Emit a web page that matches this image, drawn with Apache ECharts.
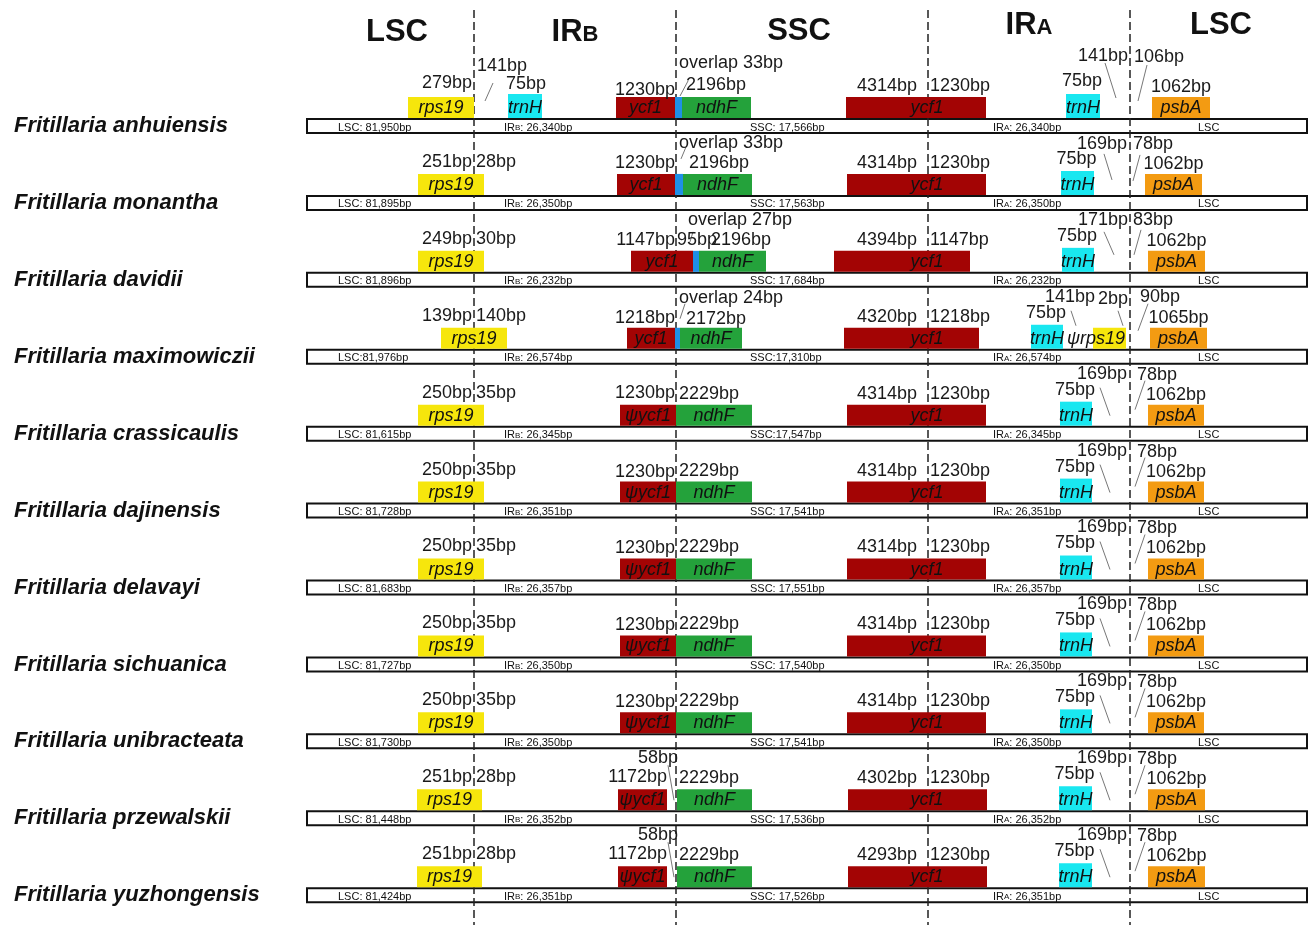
<!DOCTYPE html>
<html>
<head>
<meta charset="utf-8">
<script src="https://cdn.jsdelivr.net/npm/echarts@6/dist/echarts.min.js"></script>
<style>
  html, body { margin: 0; padding: 0; background: #fff; }
  #chart { width: 1312px; height: 925px; }
</style>
</head>
<body>
<div id="chart"></div>
<script>
// ---------- data ----------
const species = [
  'Fritillaria anhuiensis', 'Fritillaria monantha', 'Fritillaria davidii',
  'Fritillaria maximowiczii', 'Fritillaria crassicaulis', 'Fritillaria dajinensis',
  'Fritillaria delavayi', 'Fritillaria sichuanica', 'Fritillaria unibracteata',
  'Fritillaria przewalskii', 'Fritillaria yuzhongensis'
];
const regionNames = ['LSC', 'IRB', 'SSC', 'IRA', 'LSC'];

// region lengths (bp)
const lscLen = [81950, 81895, 81896, 81976, 81615, 81728, 81683, 81727, 81730, 81448, 81424];
const irLen  = [26340, 26350, 26232, 26574, 26345, 26351, 26357, 26350, 26350, 26352, 26351];
const sscLen = [17566, 17563, 17684, 17310, 17547, 17541, 17551, 17540, 17541, 17536, 17526];
const compactLsc = [3];      // rows printed as "LSC:81,976bp"
const compactSsc = [3, 4];   // rows printed as "SSC:17,310bp"

// boundary distances (bp)
const rps19Lsc    = [279, 251, 249, 139, 250, 250, 250, 250, 250, 251, 251];
const rps19Irb    = [null, 28, 30, 140, 35, 35, 35, 35, 35, 28, 28];
const trnHIrbGap  = [141, null, null, null, null, null, null, null, null, null, null];
const trnHIrb     = [75, null, null, null, null, null, null, null, null, null, null];
const ycf1Irb     = [1230, 1230, 1147, 1218, 1230, 1230, 1230, 1230, 1230, 1172, 1172];
const ycf1Gap     = [null, null, 95, null, null, null, null, null, null, 58, 58];
const ndhFOverlap = [33, 33, 27, 24, null, null, null, null, null, null, null];
const ndhFLen     = [2196, 2196, 2196, 2172, 2229, 2229, 2229, 2229, 2229, 2229, 2229];
const ycf1Ssc     = [4314, 4314, 4394, 4320, 4314, 4314, 4314, 4314, 4314, 4302, 4293];
const ycf1Ira     = [1230, 1230, 1147, 1218, 1230, 1230, 1230, 1230, 1230, 1230, 1230];
const trnHIra     = [75, 75, 75, 75, 75, 75, 75, 75, 75, 75, 75];
const trnHIraGap  = [141, 169, 171, 141, 169, 169, 169, 169, 169, 169, 169];
const rps19Ira    = [null, null, null, 2, null, null, null, null, null, null, null];
const psbAGap     = [106, 78, 83, 90, 78, 78, 78, 78, 78, 78, 78];
const psbALen     = [1062, 1062, 1062, 1065, 1062, 1062, 1062, 1062, 1062, 1062, 1062];

// ---------- diagram layout (schematic x units) ----------
const barSpan = [307, 1307];
const junctionX = [474, 676, 928, 1130];
const headerPos = [[397, 31], [575, 31], [799, 30], [1029, 24], [1221, 24]];
const segLabelX = [338, 504, 750, 993, 1198];

const stdBoxes = [['rps19', 418, 484], ['psiycf1', 620, 676], ['ndhF', 676, 752], ['ycf1A', 847, 986], ['trnH', 1060, 1092], ['psbA', 1148, 1204]];
const lateBoxes = [['rps19', 417, 482], ['psiycf1', 618, 667], ['ndhF', 677, 752], ['ycf1A', 848, 987], ['trnH', 1059, 1092], ['psbA', 1148, 1205]];
const boxLayout = [
  [['rps19', 408, 474], ['trnH', 508, 542], ['ycf1', 616, 675], ['ov', 675, 682], ['ndhF', 682, 751], ['ycf1A', 846, 986], ['trnH', 1066, 1100], ['psbA', 1152, 1210]],
  [['rps19', 418, 484], ['ycf1', 617, 675], ['ov', 675, 683], ['ndhF', 683, 752], ['ycf1A', 847, 986], ['trnH', 1061, 1094], ['psbA', 1145, 1202]],
  [['rps19', 418, 484], ['ycf1', 631, 693], ['ov', 693, 699], ['ndhF', 699, 766], ['ycf1A', 834, 970], ['trnH', 1062, 1094], ['psbA', 1148, 1205]],
  [['rps19', 441, 507], ['ycf1', 627, 675], ['ov', 675, 680], ['ndhF', 680, 742], ['ycf1A', 844, 979], ['trnH', 1031, 1063], ['psirps19', 1093, 1126], ['psbA', 1150, 1207]],
  stdBoxes, stdBoxes, stdBoxes, stdBoxes, stdBoxes,
  lateBoxes, lateBoxes
];

const geneStyle = {
  rps19:    { fill: '#f6e60c', text: 'rps19' },
  psirps19: { fill: '#f6e60c', text: 'ψrps19', align: 'right' },
  trnH:     { fill: '#19e7f0', text: 'trnH', h: 24 },
  ycf1:     { fill: '#a30404', text: 'ycf1' },
  ycf1A:    { fill: '#a30404', text: 'ycf1', at: 927 },
  psiycf1:  { fill: '#a30404', text: 'ψycf1' },
  ov:       { fill: '#1f8fe6', text: '' },
  ndhF:     { fill: '#24a23b', text: 'ndhF' },
  psbA:     { fill: '#f39b12', text: 'psbA' }
};

// label placement per value series: anchor x, offset above the bar top, alignment
const boxCenter = (row, gene) => {
  const b = boxLayout[row].filter(d => d[0] === gene).pop();
  return b ? (b[1] + b[2]) / 2 : 0;
};
const slots = [
  { v: rps19Lsc,   x: 472, dy: [-35, -33, -33, -33, -33, -33, -33, -33, -33, -33, -33], align: 'right' },
  { v: rps19Irb,   x: 476, dy: -33, align: 'left' },
  { v: trnHIrbGap, x: 477, dy: -52, align: 'left' },
  { v: trnHIrb,    x: 526, dy: -34, align: 'center' },
  { v: ycf1Irb,    x: [675, 675, 675, 675, 675, 675, 675, 675, 675, 667, 667],
    dy: [-28, -32, -32, -31, -33, -31, -31, -31, -31, -33, -33], align: 'right' },
  { v: ycf1Gap,    x: [0, 0, 677, 0, 0, 0, 0, 0, 0, 658, 658],
    dy: [0, 0, -32, 0, 0, 0, 0, 0, 0, -52, -52], align: ['left', 'left', 'left', 'left', 'left', 'left', 'left', 'left', 'left', 'center', 'center'] },
  { v: ndhFOverlap, prefix: 'overlap ', x: [679, 679, 688, 679], dy: [-55, -52, -52, -51], align: 'left' },
  { v: ndhFLen,    x: [686, 689, 711, 686, 679, 679, 679, 679, 679, 679, 679], dy: [-33, -32, -32, -30, -32, -32, -32, -32, -32, -32, -32], align: 'left' },
  { v: ycf1Ssc,    x: 917, dy: -32, align: 'right' },
  { v: ycf1Ira,    x: 930, dy: -32, align: 'left' },
  { v: trnHIra,    x: r => boxCenter(r, 'trnH') - 1, dy: [-37, -36, -36, -36, -36, -36, -36, -36, -36, -36, -36], align: 'center' },
  { v: trnHIraGap, x: [1128, 1127, 1128, 1095, 1127, 1127, 1127, 1127, 1127, 1127, 1127],
    dy: [-62, -51, -52, -52, -52, -52, -52, -52, -52, -52, -52], align: 'right' },
  { v: rps19Ira,   x: 1098, dy: -50, align: 'left' },
  { v: psbAGap,    x: [1134, 1133, 1133, 1140, 1137, 1137, 1137, 1137, 1137, 1137, 1137],
    dy: [-61, -51, -52, -52, -51, -51, -51, -51, -51, -51, -51], align: 'left' },
  { v: psbALen,    x: r => boxCenter(r, 'psbA'), dy: -31, align: 'center' }
];

// thin pointer strokes: [x1, dy1, x2, dy2]
const stdLeaders = [[1100, -38, 1110, -10], [1145, -45, 1135, -16]];
const leaderLayout = [
  [[485, -17, 493, -35], [688, -37, 680, -22], [1105, -55, 1116, -20], [1147, -53, 1138, -17]],
  [[686, -48, 681, -36], [1104, -41, 1112, -15], [1140, -40, 1133, -14]],
  [[693, -40, 690, -30], [1104, -40, 1114, -17], [1141, -42, 1134, -17]],
  [[685, -45, 680, -30], [1071, -38, 1076, -23], [1118, -38, 1123, -23], [1148, -45, 1138, -18]],
  stdLeaders, stdLeaders, stdLeaders, stdLeaders, stdLeaders,
  [[668, -45, 674, -10]].concat(stdLeaders),
  [[668, -45, 674, -10]].concat(stdLeaders)
];

// ---------- helpers ----------
const FONT = '"Liberation Sans", Arial, Helvetica, sans-serif';
const BAR_HALF = 8;
const pick = (v, r) => (typeof v === 'function' ? v(r) : Array.isArray(v) ? v[r] : v);
const fmt = n => n.toLocaleString('en-US');

const geneItems = [];
boxLayout.forEach((boxes, r) => boxes.forEach(b => geneItems.push({ row: r, gene: b[0], x0: b[1], x1: b[2] })));

const labelItems = [];
slots.forEach(s => {
  s.v.forEach((val, r) => {
    if (val === null || val === undefined) return;
    labelItems.push({
      row: r, x: pick(s.x, r), dy: pick(s.dy, r), align: pick(s.align, r),
      text: (s.prefix || '') + val + 'bp'
    });
  });
});

const leaderItems = [];
leaderLayout.forEach((ls, r) => ls.forEach(l => leaderItems.push({ row: r, l })));

// region captions inside each genome strip (all rich text so they share one baseline)
function segTexts(r) {
  const lsc = 'LSC:' + (compactLsc.includes(r) ? '' : ' ') + fmt(lscLen[r]) + 'bp';
  const ssc = 'SSC:' + (compactSsc.includes(r) ? '' : ' ') + fmt(sscLen[r]) + 'bp';
  return [
    '{a|' + lsc + '}',
    '{a|IR}{s|B}{a|: ' + fmt(irLen[r]) + 'bp}',
    '{a|' + ssc + '}',
    '{a|IR}{s|A}{a|: ' + fmt(irLen[r]) + 'bp}',
    '{a|LSC}'
  ];
}

const smallRich = {
  a: { font: '11px ' + FONT, fill: '#111', verticalAlign: 'bottom', lineHeight: 12 },
  s: { font: '8px ' + FONT, fill: '#111', verticalAlign: 'bottom', lineHeight: 12, padding: [0, 0, 1, 0] }
};

// ---------- chart ----------
const chart = echarts.init(document.getElementById('chart'), null, { renderer: 'canvas' });

chart.setOption({
  animation: false,
  backgroundColor: '#ffffff',
  grid: { left: 0, right: 0, top: 126, bottom: 29.8, containLabel: false },
  xAxis: { type: 'value', min: 0, max: 1312, show: false },
  yAxis: {
    type: 'category', data: species, inverse: true, boundaryGap: false,
    axisLine: { show: false }, axisTick: { show: false }, splitLine: { show: false },
    axisLabel: {
      inside: true, margin: 14, color: '#111', fontFamily: FONT,
      fontSize: 22, fontWeight: 'bold', fontStyle: 'italic', align: 'left'
    }
  },
  series: [
    {
      // genome strip per species with region lengths
      type: 'custom', name: 'genome', z: 1,
      data: species.map((s, i) => [barSpan[0], i, barSpan[1]]),
      renderItem(params, api) {
        const r = params.dataIndex;
        const p0 = api.coord([api.value(0), r]);
        const p1 = api.coord([api.value(2), r]);
        const children = [{
          type: 'rect',
          shape: { x: p0[0], y: p0[1] - BAR_HALF + 1, width: p1[0] - p0[0], height: 2 * BAR_HALF - 2 },
          style: { fill: '#fff', stroke: '#111', lineWidth: 2 }
        }];
        segTexts(r).forEach((t, k) => {
          const px = api.coord([segLabelX[k], r])[0];
          children.push({
            type: 'text',
            style: { text: t, rich: smallRich, x: px, y: p0[1] + 1, align: 'left', verticalAlign: 'middle' }
          });
        });
        return { type: 'group', children };
      }
    },
    {
      // junction lines between regions
      type: 'custom', name: 'junctions', z: 2,
      data: junctionX.map(x => [x, 0]),
      renderItem(params, api) {
        const x = api.coord([api.value(0), 0])[0];
        return {
          type: 'line', shape: { x1: x, y1: 10, x2: x, y2: 925 },
          style: { stroke: '#222', lineWidth: 1.5, lineDash: [8, 4] }
        };
      }
    },
    {
      // region headers
      type: 'custom', name: 'headers', z: 2,
      data: headerPos.map(h => [h[0], 0]),
      renderItem(params, api) {
        const i = params.dataIndex;
        const x = api.coord([api.value(0), 0])[0];
        const name = regionNames[i];
        const big = { font: 'bold 31px ' + FONT, fill: '#111', verticalAlign: 'bottom', lineHeight: 34 };
        const small = { font: 'bold 22px ' + FONT, fill: '#111', verticalAlign: 'bottom', lineHeight: 34, padding: [0, 0, 2, 0] };
        const isIR = name.startsWith('IR');
        return {
          type: 'text',
          style: {
            text: isIR ? '{a|IR}{s|' + name.slice(2) + '}' : '{a|' + name + '}',
            rich: { a: big, s: small },
            x, y: headerPos[i][1], align: 'center', verticalAlign: 'middle'
          }
        };
      }
    },
    {
      // gene boxes with names
      type: 'custom', name: 'genes', z: 3,
      data: geneItems.map(g => [g.x0, g.row, g.x1]),
      renderItem(params, api) {
        const g = geneItems[params.dataIndex];
        const st = geneStyle[g.gene];
        const p0 = api.coord([api.value(0), g.row]);
        const p1 = api.coord([api.value(2), g.row]);
        const h = st.h || 21;
        const bottom = p0[1] - BAR_HALF;
        const children = [{
          type: 'rect', shape: { x: p0[0], y: bottom - h, width: p1[0] - p0[0], height: h },
          style: { fill: st.fill }
        }];
        if (st.text) {
          let tx = (p0[0] + p1[0]) / 2, align = 'center';
          if (st.at) tx = api.coord([st.at, g.row])[0];
          if (st.align === 'right') { tx = p1[0] - 1; align = 'right'; }
          children.push({
            type: 'text', z2: 5,
            style: { text: st.text, x: tx, y: bottom - 10, align, verticalAlign: 'middle',
                     font: 'italic 18px ' + FONT, fill: '#111' }
          });
        }
        return { type: 'group', children };
      }
    },
    {
      // pointer strokes
      type: 'custom', name: 'leaders', z: 4,
      data: leaderItems.map(d => [d.l[0], d.row, d.l[2]]),
      renderItem(params, api) {
        const d = leaderItems[params.dataIndex];
        const a = api.coord([api.value(0), d.row]);
        const b = api.coord([api.value(2), d.row]);
        const top = a[1] - BAR_HALF;
        return {
          type: 'line', shape: { x1: a[0], y1: top + d.l[1], x2: b[0], y2: top + d.l[3] },
          style: { stroke: '#777', lineWidth: 1 }
        };
      }
    },
    {
      // bp annotations
      type: 'custom', name: 'lengths', z: 4,
      data: labelItems.map(d => [d.x, d.row]),
      renderItem(params, api) {
        const d = labelItems[params.dataIndex];
        const p = api.coord([api.value(0), d.row]);
        return {
          type: 'text',
          style: { text: d.text, x: p[0], y: p[1] - BAR_HALF + d.dy, align: d.align, verticalAlign: 'middle',
                   font: '18px ' + FONT, fill: '#1a1a1a' }
        };
      }
    }
  ]
});
</script>
</body>
</html>
